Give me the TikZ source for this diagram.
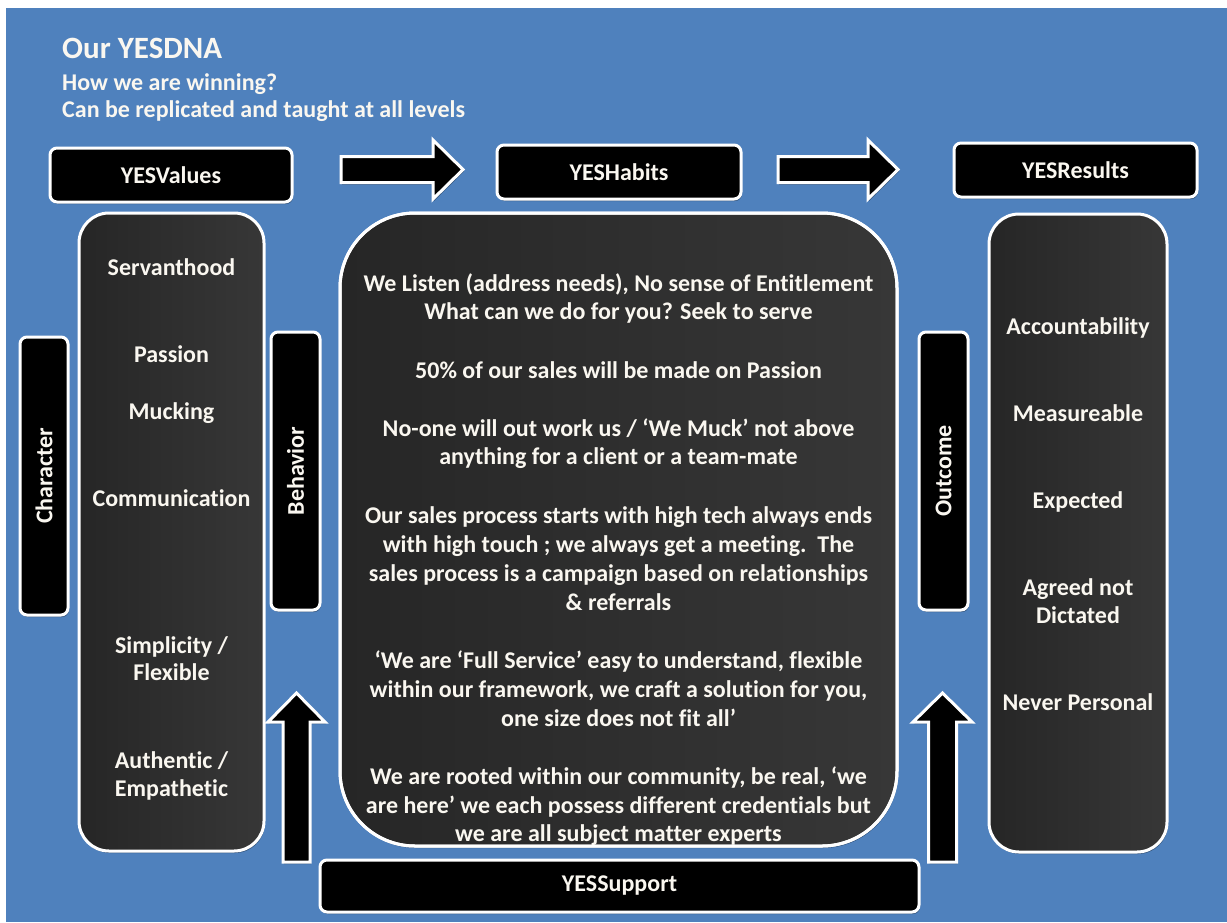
\documentclass[tikz,border=0pt]{standalone}
\usepackage{fontspec}
\setmainfont{Carlito}[Ligatures=NoCommon]
\usetikzlibrary{shadows}
\definecolor{bgblue}{HTML}{4F81BD}
\definecolor{coldarkA}{HTML}{262626}
\definecolor{coldarkB}{HTML}{373737}
\definecolor{txtwhite}{HTML}{FAF7F0}
\begin{document}
\begin{tikzpicture}[x=1pt,y=-1pt,
  shad/.style={drop shadow={shadow xshift=1pt,shadow yshift=-2pt,opacity=0.35,fill=black}},
  lbl/.style={text=txtwhite,font=\bfseries\fontsize{24}{28}\selectfont,inner sep=0pt},
  blackbox/.style={shad,fill=black,draw=white,line width=3pt,rounded corners=7pt,outer sep=0pt,
    text=txtwhite,font=\bfseries\fontsize{24}{28}\selectfont},
  column/.style={shad,left color=coldarkA,right color=coldarkB,draw=white,line width=3pt,outer sep=0pt},
  blockarrow/.style={shad,fill=black,draw=white,line width=3pt,line join=miter}]

\useasboundingbox (0,0) rectangle (1227,922);
\fill[bgblue] (6,8) rectangle (1227,922);

% titles
\node[lbl,anchor=base west,font=\bfseries\fontsize{31}{35}\selectfont] (title) at (62,58) {Our YESDNA};
\node[lbl,anchor=base west] (sub1) at (62,90) {How we are winning?};
\node[lbl,anchor=base west] (sub2) at (62,117) {Can be replicated and taught at all levels};

% header boxes
\node[blackbox,minimum width=242,minimum height=54] (values) at (171,175) {YESValues};
\node[blackbox,minimum width=244,minimum height=54] (habits) at (619,172) {YESHabits};
\node[blackbox,minimum width=243,minimum height=54] (results) at (1075.5,170) {YESResults};

% horizontal block arrows
\draw[blockarrow] (341,156.5) -- (433,156.5) -- (433,140) -- (463,169.5) -- (433,199) -- (433,182.5) -- (341,182.5) -- cycle;
\draw[blockarrow] (778,156.5) -- (868,156.5) -- (868,140) -- (898,169.5) -- (868,199) -- (868,182.5) -- (778,182.5) -- cycle;

% columns
\node[column,rounded corners=30pt,minimum width=185,minimum height=638] (valcol) at (171.5,532) {};
\node[column,rounded corners=30pt,minimum width=178,minimum height=638] (rescol) at (1078,533) {};
\node[column,rounded corners=75pt,minimum width=557,minimum height=633] (central) at (618.5,529.5) {};

% side labels
\node[blackbox,rotate=90,minimum width=278,minimum height=48] (character) at (44,476) {Character};
\node[blackbox,rotate=90,minimum width=278,minimum height=49] (behavior) at (295.5,471) {Behavior};
\node[blackbox,rotate=90,minimum width=278,minimum height=49] (outcome) at (943.5,471) {Outcome};

% vertical block arrows
\draw[blockarrow] (283,862) -- (283,722) -- (268,722) -- (296.5,693) -- (325,722) -- (310,722) -- (310,862) -- cycle;
\draw[blockarrow] (928.5,862) -- (928.5,722) -- (913,722) -- (942.5,693) -- (972,722) -- (956.5,722) -- (956.5,862) -- cycle;

% support box
\node[blackbox,minimum width=599,minimum height=52] (support) at (619.5,886) {YESSupport};

% values column text
\foreach \yy/\txt [count=\i] in {275/Servanthood, 362/Passion, 419/Mucking, 506/Communication,
   653/{Simplicity /}, 680/Flexible, 768/{Authentic /}, 796/Empathetic}
  \node[lbl,anchor=base] (v\i) at (171.5,\yy) {\txt};

% results column text
\foreach \yy/\txt [count=\i] in {334/Accountability, 421/Measureable, 508/Expected,
   595/{Agreed not}, 623/Dictated, 710/{Never Personal}}
  \node[lbl,anchor=base] (r\i) at (1078,\yy) {\txt};

% central text
\foreach \yy/\txt [count=\i] in {
  291/{We Listen (address needs), No sense of Entitlement},
  319/{What can we do for you? Seek to serve},
  378/{50\% of our sales will be made on Passion},
  436/{No-one will out work us / ‘We Muck’ not above},
  464/{anything for a client or a team-mate},
  523/{Our sales process starts with high tech always ends},
  552/{with high touch ; we always get a meeting.\ \ The},
  581/{sales process is a campaign based on relationships},
  610/{\& referrals},
  668/{‘We are ‘Full Service’ easy to understand, flexible},
  697/{within our framework, we craft a solution for you,},
  726/{one size does not fit all’},
  784/{We are rooted within our community, be real, ‘we},
  813/{are here’ we each possess different credentials but},
  841/{we are all subject matter experts}}
  \node[lbl,anchor=base] (c\i) at (618.5,\yy) {\txt};

% border over the text, as in the original
\draw[white,line width=3pt,rounded corners=75pt] (central.north west) rectangle (central.south east);
\end{tikzpicture}
\end{document}
